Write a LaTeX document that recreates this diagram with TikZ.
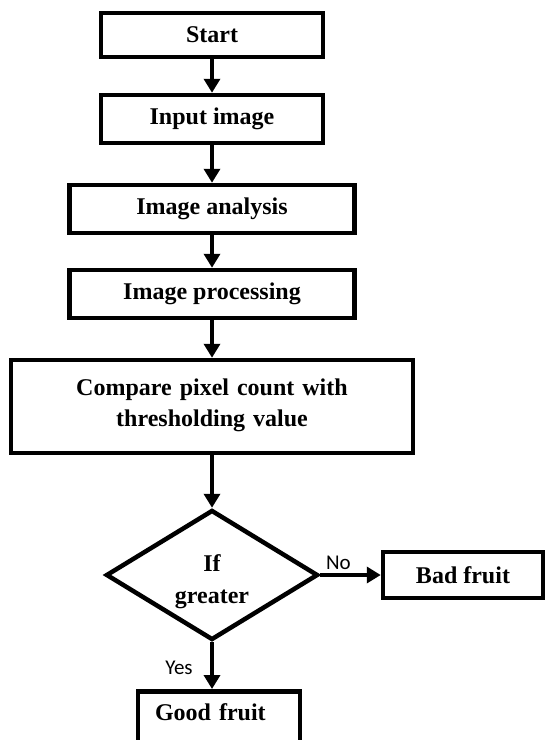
\documentclass[tikz,border=0pt]{standalone}
\usepackage{fontspec}
\setmainfont{Liberation Serif}
\newfontfamily\labelfont{Carlito}
\usetikzlibrary{arrows.meta,shapes.geometric}
\begin{document}
\begin{tikzpicture}[x=1pt,y=-1pt,
  box/.style={draw, line width=4.5pt, rectangle, inner sep=0pt,
    font=\fontsize{24}{31}\selectfont\bfseries, align=center},
  decision/.style={draw, line width=4.5pt, diamond, inner sep=0pt, aspect=1.6,
    font=\fontsize{24}{32}\selectfont\bfseries, align=center},
  flow/.style={line width=4pt, -{Triangle[length=14pt,width=16pt]}},
  tag/.style={font=\labelfont\fontsize{21}{24}\selectfont}]
\useasboundingbox (0,0) rectangle (545,740);

% process boxes down the main axis
\node[box, minimum width=222, minimum height=44] (start) at (212,35) {Start};
\node[box, minimum width=222, minimum height=48] (input) at (212,119) {Input image};
\node[box, minimum width=285, minimum height=48] (analysis) at (212,209) {Image analysis};
\node[box, minimum width=285, minimum height=48] (proc) at (212,294) {Image processing};
\node[box, minimum width=402, minimum height=93, text width=380, inner xsep=11pt,
  text height=17pt, text depth=40pt]
  (compare) at (212,406.5) {Compare pixel count with\\thresholding value};

% decision and outcomes
\node[decision, minimum width=212, minimum height=130, text width=90,
  text height=17pt, text depth=25pt]
  (dec) at (212,575) {If\\greater};
\node[box, minimum width=160, minimum height=46] (bad) at (463,575) {Bad fruit};
\node[box, minimum height=72, anchor=north, text width=128, inner xsep=17pt,
  align=left, text height=17pt, text depth=30pt] (good) at (219,689) {Good fruit};

% connectors
\draw[flow] (start) -- (input);
\draw[flow] (input) -- (analysis);
\draw[flow] (analysis) -- (proc);
\draw[flow] (proc) -- (compare);
\draw[flow] (compare) -- (dec);
\draw[flow] (dec.east) -- node[tag, above, pos=0.3] {No} (bad.west);
\draw[flow] (dec.south) -- (dec.south |- good.north)
  node[tag, pos=0.55, left=14pt] {Yes};
\end{tikzpicture}
\end{document}
